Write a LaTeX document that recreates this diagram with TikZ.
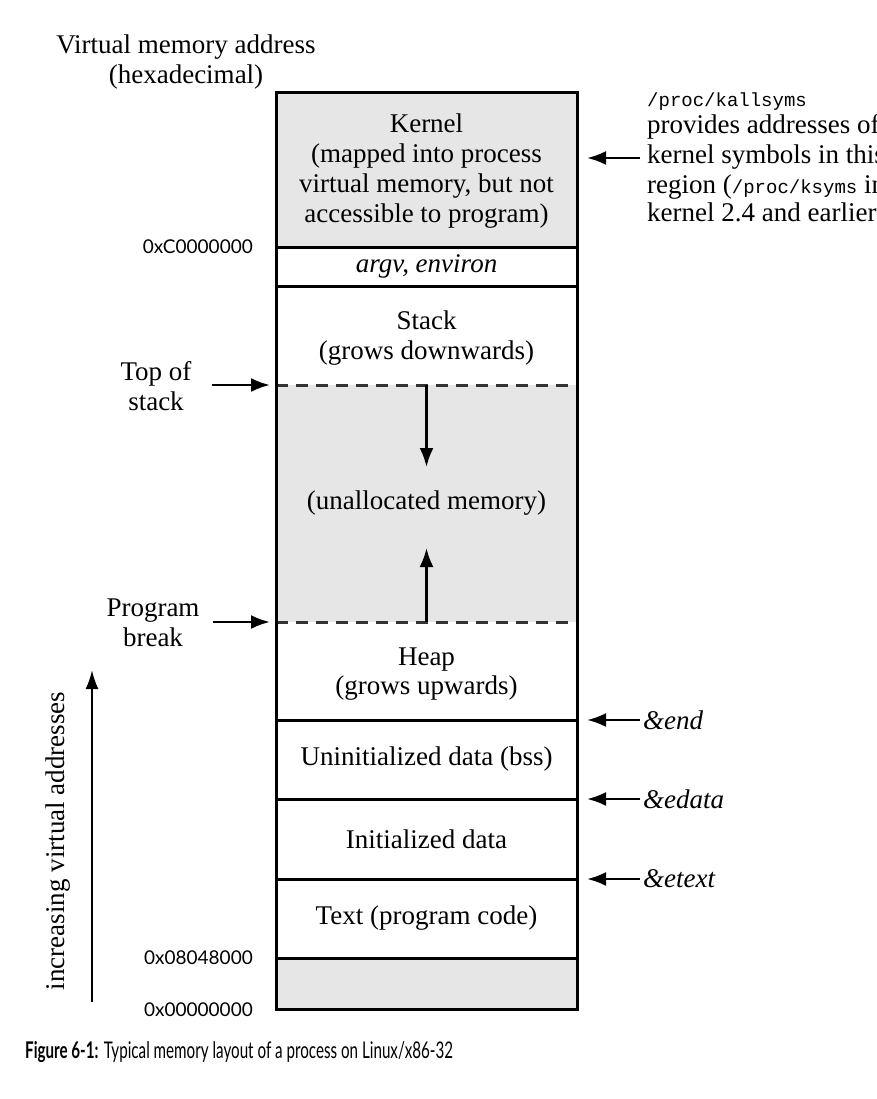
\documentclass[tikz,border=0pt]{standalone}
\usepackage{fontspec}
\usepackage{graphicx}
\setmainfont{Liberation Serif}
\newfontfamily\hexf{Lato}
\newfontfamily\monof{Liberation Mono}
\newfontfamily\capf{Lato}
\usetikzlibrary{arrows.meta}
\definecolor{memgray}{RGB}{230,230,230}
\begin{document}
\begin{tikzpicture}[x=1pt,y=-1pt,
  txt/.style={font=\fontsize{27}{29.7}\selectfont, inner sep=0pt, align=center},
  hex/.style={font=\hexf\fontsize{19}{22}\selectfont, inner sep=0pt, anchor=east},
  rtxt/.style={font=\fontsize{27}{29.7}\selectfont, inner sep=0pt, anchor=base west},
  rlab/.style={font=\fontsize{27}{29.7}\selectfont\itshape, inner sep=0pt, anchor=west},
  arr/.style={line width=2.6pt, -{Latex[length=19pt,width=14pt]}},
  sep/.style={line width=3pt},
  dsep/.style={line width=3pt, dash pattern=on 12pt off 8pt, draw=black!80},
]
\clip (0,0) rectangle (876,1099);
\fill[white] (0,0) rectangle (876,1099);

% region fills
\fill[memgray] (276,93) rectangle (577,247);
\fill[memgray] (276,385) rectangle (577,622);
\fill[memgray] (276,958) rectangle (577,1009);

% boundary coordinates
\coordinate (kL) at (276,247);  \coordinate (kR) at (577,247);
\coordinate (aL) at (276,286);  \coordinate (aR) at (577,286);
\coordinate (sL) at (276,385);  \coordinate (sR) at (577,385);
\coordinate (pL) at (276,622);  \coordinate (pR) at (577,622);
\coordinate (hL) at (276,720);  \coordinate (hR) at (577,720);
\coordinate (bL) at (276,799);  \coordinate (bR) at (577,799);
\coordinate (iL) at (276,879);  \coordinate (iR) at (577,879);
\coordinate (tL) at (276,958);  \coordinate (tR) at (577,958);
\coordinate (kptr) at (577,158);

% separators
\draw[sep] (kL) -- (kR);
\draw[sep] (aL) -- (aR);
\draw[dsep] (sL) -- (sR);
\draw[dsep] (pL) -- (pR);
\draw[sep] (hL) -- (hR);
\draw[sep] (bL) -- (bR);
\draw[sep] (iL) -- (iR);
\draw[sep] (tL) -- (tR);
\draw[line width=3pt] (276,93) rectangle (577,1009);

% region texts
\node[txt] (kernel) at (426.5,171) {Kernel\\(mapped into process\\virtual memory, but not\\accessible to program)};
\node[txt, font=\fontsize{27}{29.7}\selectfont\itshape] (argv) at (426.5,266) {argv, environ};
\node[txt] (stack) at (426.5,338) {Stack\\(grows downwards)};
\node[txt] (unalloc) at (426.5,503) {(unallocated memory)};
\node[txt] (heap) at (426.5,674) {Heap\\(grows upwards)};
\node[txt] (bss) at (426.5,759) {Uninitialized data (bss)};
\node[txt] (init) at (426.5,839) {Initialized data};
\node[txt] (text) at (426.5,918) {Text (program code)};

% growth arrows
\coordinate (dA) at (426.5,385); \coordinate (dB) at (426.5,467);
\coordinate (uA) at (426.5,622); \coordinate (uB) at (426.5,548);
\draw[arr] (dA) -- (dB);
\draw[arr] (uA) -- (uB);

% left labels
\node[txt] (vma) at (186,62) {Virtual memory address\\(hexadecimal)};
\node[txt] (tos) at (156,386) {Top of\\stack};
\node[txt] (pbrk) at (153,623) {Program\\break};
\draw[arr] ([xshift=20pt]tos.east |- sL) -- ([xshift=-6pt]sL);
\draw[arr] ([xshift=13pt]pbrk.east |- pL) -- ([xshift=-6pt]pL);

\node[hex] (hexC) at (253,247) {0xC0000000};
\node[hex] (hex8) at (253,958) {0x08048000};
\node[hex] (hex0) at (253,1010) {0x00000000};

\node[txt, rotate=90] (incr) at (58,841) {increasing virtual addresses};
\coordinate (iA) at (92,1002); \coordinate (iB) at (92,670);
\draw[line width=2.2pt, -{Latex[length=19pt,width=13pt]}] (iA) -- (iB);

% right labels
\node[rtxt, font=\monof\fontsize{19}{22}\selectfont] (r1) at (647,107) {/proc/kallsyms};
\node[rtxt] (r2) at (647,134) {provides addresses of};
\node[rtxt] (r3) at (647,164) {kernel symbols in this};
\node[rtxt] (r4) at (647,194) {region ({\monof\fontsize{19}{22}\selectfont/proc/ksyms} in};
\node[rtxt] (r5) at (647,222) {kernel 2.4 and earlier)};
\draw[arr] ([xshift=63pt]kptr) -- ([xshift=10pt]kptr);

\node[rlab] (lend) at (643,720) {\&end};
\node[rlab] (ledata) at (643,799) {\&edata};
\node[rlab] (letext) at (643,879) {\&etext};
\draw[arr] ([xshift=-3pt]lend.west) -- ([xshift=10pt]hR);
\draw[arr] ([xshift=-3pt]ledata.west) -- ([xshift=10pt]bR);
\draw[arr] ([xshift=-3pt]letext.west) -- ([xshift=10pt]iR);

% caption
\node[anchor=base west, inner sep=0pt] (cap) at (25,1058) {\scalebox{0.66}[1]{\capf\fontsize{23}{26}\selectfont\textbf{Figure 6-1:} Typical memory layout of a process on Linux/x86-32}};
\end{tikzpicture}
\end{document}
